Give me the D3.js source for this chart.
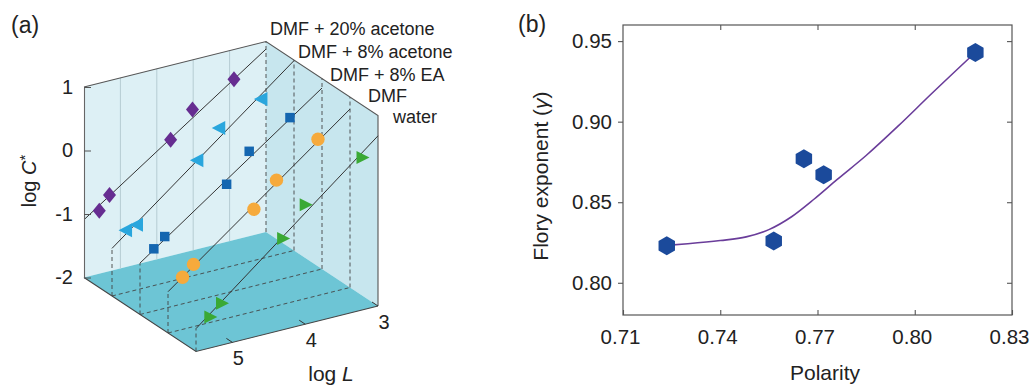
<!DOCTYPE html>
<html>
<head>
<meta charset="utf-8">
<script src="https://cdn.jsdelivr.net/npm/d3@7"></script>
<style>
  body { margin: 0; background: #fff; }
  svg { font-family: Arial, "Liberation Sans", sans-serif; }
</style>
</head>
<body>
<svg id="chart" width="1031" height="385"></svg>
<script>
// ---- panel (a): log C* against log L, one plane per solvent
const solvents = ["DMF + 20% acetone", "DMF + 8% acetone", "DMF + 8% EA", "DMF", "water"];
const colors = ["#662d91", "#29a6dd", "#1466b0", "#f6aa3c", "#3aa935"];
const logL = [
  [3.44, 4.01, 4.31, 5.15, 5.29],
  [3.44, 4.02, 4.32, 5.15, 5.30],
  [3.44, 4.00, 4.31, 5.16, 5.31],
  [3.44, 4.01, 4.32, 5.15, 5.30],
  [3.22, 4.00, 4.31, 5.15, 5.31]
];
const logC = [
  [0.53, 0.22, -0.17, -0.80, -1.01],
  [0.51, 0.22, -0.20, -0.98, -1.02],
  [0.51, 0.14, -0.29, -0.87, -1.02],
  [0.46, -0.02, -0.39, -1.02, -1.18],
  [0.40, -0.12, -0.56, -1.34, -1.51]
];
// fitted lines: log C* at log L = 5.5 and at log L = 3
const fitAt55 = [-1.09, -1.25, -1.19, -1.35, -1.64];
const fitAt3 = [0.88, 0.99, 0.85, 0.81, 0.68];
const lTicks = [3, 4, 5];
const cTicks = [-2, -1, 0, 1];
const gridL = [3.5, 4, 4.5, 5];

// ---- panel (b): Flory exponent against polarity
const polarity = [0.7235, 0.7565, 0.7658, 0.7719, 0.8187];
const flory = [0.823, 0.826, 0.877, 0.867, 0.943];
const fitPolarity = [0.7235, 0.730, 0.740, 0.748, 0.755, 0.762, 0.769, 0.776, 0.785, 0.795, 0.805, 0.8187];
const fitFlory = [0.8232, 0.8242, 0.8262, 0.8285, 0.8330, 0.8410, 0.8520, 0.8640, 0.8790, 0.8975, 0.9170, 0.9430];
const xTicks = [0.71, 0.74, 0.77, 0.80, 0.83];
const yTicks = [0.80, 0.85, 0.90, 0.95];

const svg = d3.select("#chart");

// ================= panel (a) =================
const lFrac = d3.scaleLinear().domain([3, 5.5]).range([0, 1]);
const depth = d3.scalePoint().domain(solvents).range([0, 1]);
const cHeight = d3.scaleLinear().domain([-2, 1]).range([0, 190.5]);
const origin = [266, 232], lVec = [-182, 45.5], dVec = [112, 74];

// oblique projection: (log L, depth, log C*) -> screen
function project(L, d, c) {
  const f = lFrac(L);
  return [origin[0] + f * lVec[0] + d * dVec[0],
          origin[1] + f * lVec[1] + d * dVec[1] - cHeight(c)];
}

const a = svg.append("g");
const poly = pts => "M" + pts.map(p => p.join(",")).join("L") + "Z";

// walls and floor
a.append("path").attr("d", poly([project(3, 0, -2), project(5.5, 0, -2), project(5.5, 0, 1), project(3, 0, 1)]))
  .attr("fill", "#ddf0f5");
a.append("path").attr("d", poly([project(3, 0, -2), project(3, 1, -2), project(3, 1, 1), project(3, 0, 1)]))
  .attr("fill", "#c7e6ee");
a.append("path").attr("d", poly([project(3, 0, -2), project(5.5, 0, -2), project(5.5, 1, -2), project(3, 1, -2)]))
  .attr("fill", "#6dc5d5");

// faint grid on the back wall
a.selectAll(".grid").data(gridL).enter().append("line")
  .attr("x1", d => project(d, 0, -2)[0]).attr("y1", d => project(d, 0, -2)[1])
  .attr("x2", d => project(d, 0, 1)[0]).attr("y2", d => project(d, 0, 1)[1])
  .attr("stroke", "#b6ccd3").attr("stroke-width", 1);

// dashed guides
const dash = a.append("g").attr("stroke", "#444").attr("stroke-width", 0.9).attr("stroke-dasharray", "4,3");
solvents.slice(0, 4).forEach(s => {
  const d = depth(s);
  const p1 = project(3, d, -2), p2 = project(3, d, 1);
  dash.append("line").attr("x1", p1[0]).attr("y1", p1[1]).attr("x2", p2[0]).attr("y2", p2[1]);
});
solvents.slice(1, 4).forEach(s => {
  const d = depth(s);
  const p1 = project(5.5, d, -2), p2 = project(3, d, -2);
  dash.append("line").attr("x1", p1[0]).attr("y1", p1[1]).attr("x2", p2[0]).attr("y2", p2[1]);
});
solvents.slice(1).forEach((s, i) => {
  const d = depth(s);
  const p1 = project(5.5, d, -2), p2 = project(5.5, d, fitAt55[i + 1]);
  dash.append("line").attr("x1", p1[0]).attr("y1", p1[1]).attr("x2", p2[0]).attr("y2", p2[1]);
});

// box edges
const edge = d3.line();
a.append("path").attr("d", edge([project(5.5, 0, 1), project(3, 0, 1), project(3, 1, 1), project(3, 1, -2)]))
  .attr("fill", "none").attr("stroke", "#555").attr("stroke-width", 1.1);
a.append("path").attr("d", edge([project(5.5, 0, -2), project(5.5, 1, -2), project(3, 1, -2)]))
  .attr("fill", "none").attr("stroke", "#444").attr("stroke-width", 1.1);

// fitted lines
solvents.forEach((s, i) => {
  const d = depth(s);
  a.append("path").attr("d", edge([project(5.5, d, fitAt55[i]), project(3, d, fitAt3[i])]))
    .attr("fill", "none").attr("stroke", "#333").attr("stroke-width", 1);
});

// marker shapes
const diamond = { draw(ctx) { ctx.moveTo(0, -8); ctx.lineTo(6.5, 0); ctx.lineTo(0, 8); ctx.lineTo(-6.5, 0); ctx.closePath(); } };
const triLeft = { draw(ctx) { ctx.moveTo(-8, 0); ctx.lineTo(5.5, -7); ctx.lineTo(5.5, 7); ctx.closePath(); } };
const triRight = { draw(ctx) { ctx.moveTo(7.5, 0); ctx.lineTo(-5.5, -6.5); ctx.lineTo(-5.5, 6.5); ctx.closePath(); } };
const shapes = [d3.symbol(diamond), d3.symbol(triLeft), d3.symbol(d3.symbolSquare, 90),
                d3.symbol(d3.symbolCircle, 140), d3.symbol(triRight)];

solvents.forEach((s, i) => {
  const d = depth(s);
  a.append("g").selectAll("path").data(logL[i].map((L, j) => [L, logC[i][j]])).enter()
    .append("path")
    .attr("d", shapes[i]())
    .attr("transform", p => "translate(" + project(p[0], d, p[1]).join(",") + ")")
    .attr("fill", colors[i]);
});

// log C* axis on the back wall's left edge
const cEdge = d3.scaleLinear().domain([-2, 1])
  .range([project(5.5, 0, -2)[1], project(5.5, 0, 1)[1]]);
const cAxis = a.append("g").attr("transform", "translate(" + project(5.5, 0, -2)[0] + ",0)")
  .call(d3.axisLeft(cEdge).tickValues(cTicks).tickFormat(d => String(d)).tickSize(-7).tickSizeOuter(0).tickPadding(11));
cAxis.select(".domain").attr("stroke", "#666").attr("stroke-width", 1.1);
cAxis.selectAll(".tick line").attr("stroke", "#555");
cAxis.selectAll("text").attr("font-size", 20).attr("fill", "#222").attr("font-family", "Arial, 'Liberation Sans', sans-serif");

// log L ticks on the front edge of the floor
const lt = a.selectAll(".ltick").data(lTicks).enter().append("g")
  .attr("transform", d => "translate(" + project(d, 1, -2).join(",") + ")");
lt.append("line").attr("x1", 0).attr("y1", 0).attr("x2", -6).attr("y2", -4).attr("stroke", "#333");
lt.append("text").attr("x", 6).attr("y", 23).attr("text-anchor", "middle")
  .attr("font-size", 20).attr("fill", "#222").text(d => d);

// axis titles
a.append("text").attr("transform", "translate(36,181) rotate(-90)").attr("text-anchor", "middle")
  .attr("font-size", 20).attr("fill", "#222")
  .call(t => { t.append("tspan").text("log "); t.append("tspan").attr("font-style", "italic").text("C"); t.append("tspan").attr("dy", -6).attr("font-size", 15).text("*"); });
a.append("text").attr("x", 331).attr("y", 381).attr("text-anchor", "middle")
  .attr("font-size", 21).attr("fill", "#222")
  .call(t => { t.append("tspan").text("log "); t.append("tspan").attr("font-style", "italic").text("L"); });

// solvent labels near the top of each plane
const labelOffset = [[4, -6.5], [4, -2], [8, 2.5], [18, 5], [15, 7.5]];
solvents.forEach((s, i) => {
  const p = project(3, depth(s), 1);
  a.append("text").attr("x", p[0] + labelOffset[i][0]).attr("y", p[1] + labelOffset[i][1])
    .attr("font-size", 18).attr("fill", "#222").text(s);
});

a.append("text").attr("x", 11).attr("y", 33).attr("font-size", 23).attr("fill", "#222").text("(a)");

// ================= panel (b) =================
const margin = {left: 623, top: 25, right: 1012, bottom: 315};
const x = d3.scaleLinear().domain([0.71, 0.83]).range([margin.left, margin.right]);
const y = d3.scaleLinear().domain([0.78, 0.96]).range([margin.bottom, margin.top]);
const b = svg.append("g");

function styleAxis(g) {
  g.select(".domain").remove();
  g.selectAll(".tick line").attr("stroke", "#555").attr("stroke-width", 1.1);
  g.selectAll("text").attr("font-size", 20.5).attr("fill", "#222").attr("font-family", "Arial, 'Liberation Sans', sans-serif");
}
b.append("g").attr("transform", "translate(0," + margin.bottom + ")")
  .call(d3.axisBottom(x).tickValues(xTicks).tickFormat(d3.format(".2f")).tickSizeInner(-5).tickSizeOuter(0).tickPadding(14))
  .call(styleAxis)
  .selectAll("text").attr("dx", -3);
b.append("g").attr("transform", "translate(0," + margin.top + ")")
  .call(d3.axisTop(x).tickValues(xTicks.slice(1, 4)).tickFormat("").tickSizeInner(-5).tickSizeOuter(0))
  .call(styleAxis);
b.append("g").attr("transform", "translate(" + margin.left + ",0)")
  .call(d3.axisLeft(y).tickValues(yTicks).tickFormat(d3.format(".2f")).tickSizeInner(5).tickSizeOuter(0).tickPadding(6))
  .call(styleAxis);
b.append("g").attr("transform", "translate(" + margin.right + ",0)")
  .call(d3.axisRight(y).tickValues(yTicks).tickFormat("").tickSizeInner(-5).tickSizeOuter(0))
  .call(styleAxis);

b.append("rect").attr("x", margin.left).attr("y", margin.top)
  .attr("width", margin.right - margin.left).attr("height", margin.bottom - margin.top)
  .attr("fill", "none").attr("stroke", "#555").attr("stroke-width", 1.2);

// fitted curve
b.append("path").datum(fitPolarity.map((p, i) => [p, fitFlory[i]]))
  .attr("d", d3.line().x(d => x(d[0])).y(d => y(d[1])).curve(d3.curveMonotoneX))
  .attr("fill", "none").attr("stroke", "#6a3d9a").attr("stroke-width", 1.6);

// hexagon markers
const hexagon = { draw(ctx) {
  for (let k = 0; k < 6; k++) {
    const ang = -Math.PI / 2 + k * Math.PI / 3;
    const px = 9.5 * Math.cos(ang), py = 9.5 * Math.sin(ang);
    if (k === 0) ctx.moveTo(px, py); else ctx.lineTo(px, py);
  }
  ctx.closePath();
} };
b.append("g").selectAll("path").data(polarity.map((p, i) => [p, flory[i]])).enter()
  .append("path").attr("d", d3.symbol(hexagon)())
  .attr("transform", d => "translate(" + x(d[0]) + "," + y(d[1]) + ")")
  .attr("fill", "#1b4a9b");

b.append("text").attr("x", 825).attr("y", 380).attr("text-anchor", "middle")
  .attr("font-size", 21).attr("fill", "#222").text("Polarity");
b.append("text").attr("transform", "translate(548,176) rotate(-90)").attr("text-anchor", "middle")
  .attr("font-size", 21).attr("fill", "#222")
  .call(t => { t.append("tspan").text("Flory exponent ("); t.append("tspan").attr("font-style", "italic").text("γ"); t.append("tspan").text(")"); });
b.append("text").attr("x", 518).attr("y", 32).attr("font-size", 23).attr("fill", "#222").text("(b)");
</script>
</body>
</html>
